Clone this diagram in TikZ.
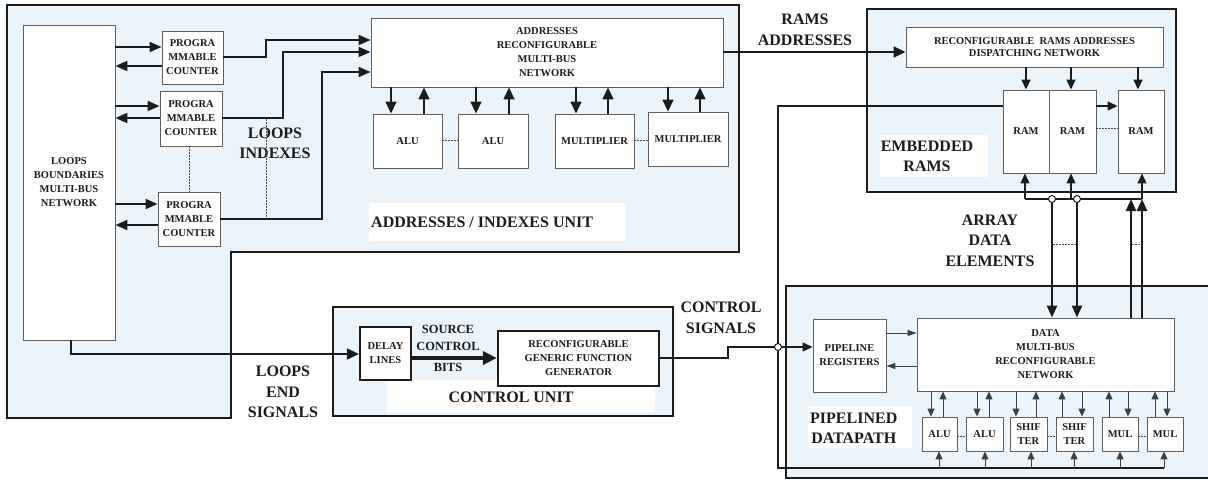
\documentclass[tikz,border=0pt]{standalone}
\usepackage{fontspec}
\setmainfont{Liberation Serif}
\usetikzlibrary{arrows.meta}
\definecolor{unitfill}{RGB}{235,244,251}
\definecolor{boxline}{RGB}{95,95,95}
\definecolor{ink}{RGB}{28,28,28}

\begin{document}
\begin{tikzpicture}[x=1pt,y=-1pt,
  unit/.style={fill=unitfill, draw=ink, line width=2.6pt, line join=miter},
  blk/.style={draw=boxline, fill=white, line width=0.9pt, inner sep=0pt, align=center,
    font=\fontsize{10.5}{14}\selectfont\bfseries, text=ink},
  hblk/.style={blk, draw=ink, line width=2.2pt},
  big/.style={font=\fontsize{16}{20.5}\selectfont\bfseries, align=center, inner sep=0pt, text=ink},
  mid/.style={font=\fontsize{12.5}{17}\selectfont\bfseries, align=center, inner sep=0pt, text=ink},
  bus/.style={draw=ink, line width=1.8pt, -{Triangle[length=12pt,width=10pt]}},
  busw/.style={draw=ink, line width=1.6pt, -{Triangle[length=12pt,width=11pt]}},
  fat/.style={draw=ink, line width=2.4pt, -{Triangle[length=12pt,width=10pt]}},
  med/.style={draw=ink, line width=1.3pt, -{Triangle[length=10pt,width=9pt]}},
  thinarr/.style={draw=ink!85, line width=1pt, -{Triangle[length=8pt,width=7pt]}},
  dots/.style={draw=ink!80, line width=0.8pt, dash pattern=on 1.5pt off 1.5pt},
  hop/.style={circle, draw=ink, fill=white, line width=1pt, minimum size=7pt, inner sep=0pt}
]
\useasboundingbox (0,0) rectangle (1208,482);

% ---------- unit regions ----------
\draw[unit] (7,5) -- (739,5) -- (739,252) -- (231,252) -- (231,418) -- (7,418) -- cycle;
\draw[unit] (867,9) rectangle (1176,192);
\draw[unit] (333,307) rectangle (673,416);
\fill[unitfill] (786,286) rectangle (1208,478);
\draw[ink, line width=2.6pt, line join=miter] (1209,286) -- (786,286) -- (786,478) -- (1209,478);

% white plates behind unit titles
\fill[white] (369,203) rectangle (626,241);
\fill[white] (880,135) rectangle (988,177);
\fill[white] (387,380) rectangle (655,412);
\fill[white] (808,406) rectangle (912,448);

% ---------- addresses / indexes unit ----------
\node[blk, minimum width=92pt, minimum height=315pt] (loops) at (69,182.5) {LOOPS\\BOUNDARIES\\MULTI-BUS\\NETWORK};
\node[blk, minimum width=61pt, minimum height=53pt] (cnt1) at (192.5,57.5) {PROGRA\\MMABLE\\COUNTER};
\node[blk, minimum width=62pt, minimum height=55pt] (cnt2) at (191,118.5) {PROGRA\\MMABLE\\COUNTER};
\node[blk, minimum width=62pt, minimum height=54pt] (cnt3) at (189,219) {PROGRA\\MMABLE\\COUNTER};
\node[blk, minimum width=352pt, minimum height=69pt] (anet) at (547,52.5) {ADDRESSES\\RECONFIGURABLE\\MULTI-BUS\\NETWORK};
\node[blk, minimum width=69pt, minimum height=54pt] (alu1) at (407.5,141) {ALU};
\node[blk, minimum width=70pt, minimum height=54pt] (alu2) at (493,141) {ALU};
\node[blk, minimum width=79pt, minimum height=54pt] (mul1) at (594.5,141) {MULTIPLIER};
\node[blk, minimum width=80pt, minimum height=54pt] (mul2) at (688,139) {MULTIPLIER};

\node[big] (idx) at (275,143.5) {LOOPS\\INDEXES};
\node[big, anchor=west] (aiu) at (371,222) {ADDRESSES / INDEXES UNIT};

% ---------- embedded RAMs ----------
\node[blk, minimum width=257pt, minimum height=40pt, font=\fontsize{10.5}{12.5}\selectfont\bfseries] (disp) at (1034.5,47) {RECONFIGURABLE~ RAMS ADDRESSES\\DISPATCHING NETWORK};
\node[blk, minimum width=46pt, minimum height=83pt] (ram1) at (1026,131.5) {RAM};
\node[blk, minimum width=47pt, minimum height=83pt] (ram2) at (1072.5,131.5) {RAM};
\node[blk, minimum width=46pt, minimum height=83pt] (ram3) at (1141,131.5) {RAM};
\node[big] (eram) at (927,156.5) {EMBEDDED\\RAMS};
\node[big] (raddr) at (805,30) {RAMS\\ADDRESSES};
\node[big] (arr) at (990,240.5) {ARRAY\\DATA\\ELEMENTS};

% ---------- control unit ----------
\node[hblk, minimum width=51pt, minimum height=53pt] (dly) at (385.5,353.5) {DELAY\\LINES};
\node[hblk, minimum width=161pt, minimum height=55pt] (gen) at (578.5,358.5) {RECONFIGURABLE\\GENERIC FUNCTION\\GENERATOR};
\node[big] (cu) at (511,397) {CONTROL UNIT};
\node[mid] (scb) at (448,348) {SOURCE\\CONTROL\\[4pt]BITS};
\node[big] (les) at (283,392) {LOOPS\\END\\SIGNALS};
\node[big] (csig) at (721,318) {CONTROL\\SIGNALS};

% ---------- pipelined datapath ----------
\node[blk, minimum width=73pt, minimum height=73pt] (preg) at (849.5,355.5) {PIPELINE\\REGISTERS};
\node[blk, minimum width=257pt, minimum height=73pt] (dnet) at (1045.5,354.5) {DATA\\MULTI-BUS\\RECONFIGURABLE\\NETWORK};
\node[blk, minimum width=35pt, minimum height=34pt] (pa1) at (939.5,434) {ALU};
\node[blk, minimum width=37pt, minimum height=34pt] (pa2) at (984.5,434) {ALU};
\node[blk, minimum width=37pt, minimum height=34pt] (ps1) at (1028.5,434) {SHIF\\TER};
\node[blk, minimum width=37pt, minimum height=34pt] (ps2) at (1074.5,434) {SHIF\\TER};
\node[blk, minimum width=36pt, minimum height=34pt] (pm1) at (1120,434) {MUL};
\node[blk, minimum width=36pt, minimum height=34pt] (pm2) at (1165,434) {MUL};
\node[big, anchor=west] (pdp) at (810,428.5) {PIPELINED\\DATAPATH};

% ---------- connectors: loops network and counters ----------
\draw[bus] (loops.east |- 0,47) -- (cnt1.west |- 0,47);
\draw[bus] (cnt1.west |- 0,66) -- (loops.east |- 0,66);
\draw[bus] (loops.east |- 0,106) -- (cnt2.west |- 0,106);
\draw[bus] (cnt2.west |- 0,118) -- (loops.east |- 0,118);
\draw[bus] (loops.east |- 0,204) -- (cnt3.west |- 0,204);
\draw[bus] (cnt3.west |- 0,225) -- (loops.east |- 0,225);

\draw[bus] (cnt1.east |- 0,57) -| (266,40) -- (anet.west |- 0,40);
\draw[bus] (cnt2.east |- 0,118) -| (283,52) -- (anet.west |- 0,52);
\draw[bus] (cnt3.east |- 0,219) -| (322,72) -- (anet.west |- 0,72);

\draw[dots] (cnt2.south -| 189,0) -- (cnt3.north -| 189,0);
\draw[dots] (266,119) -- (266,218);

% address network <-> operators
\foreach \n/\d/\u in {alu1/391/424, alu2/476/509, mul1/576/608, mul2/668/700}{
  \draw[busw] (anet.south -| \d,0) -- (\n.north -| \d,0);
  \draw[busw] (\n.north -| \u,0) -- (anet.south -| \u,0);
}
\draw[dots] (alu1.east |- 0,140) -- (alu2.west |- 0,140);
\draw[dots] (mul1.east |- 0,140) -- (mul2.west |- 0,140);

% ---------- RAM addresses ----------
\draw[draw=ink, line width=2pt, -{Triangle[length=12pt,width=11pt]}] (anet.east |- 0,52) -- (disp.west |- 0,52);
\foreach \n/\x in {ram1/1026, ram2/1071, ram3/1138}{
  \draw[med, line width=1.4pt] (disp.south -| \x,0) -- (\n.north -| \x,0);
}
\draw[med, line width=1.4pt] (ram2.east |- 0,106) -- (ram3.west |- 0,106);
\draw[dots] (ram2.east |- 0,128) -- (ram3.west |- 0,128);

% RAM data bus
\coordinate (rb1) at (1025,199);
\coordinate (rb2) at (1071,199);
\coordinate (rb3) at (1142,199);
\draw[ink, line width=1.1pt] (rb1) -- (rb3);
\draw[med, line width=1.1pt] (rb1) -- (ram1.south -| rb1);
\draw[med, line width=1.1pt] (rb2) -- (ram2.south -| rb2);
\draw[med, line width=1.1pt] (rb3) -- (ram3.south -| rb3);

\coordinate (h1) at (1052,199);
\coordinate (h2) at (1077,199);
\draw[fat] (h1) -- (dnet.north -| h1);
\draw[fat] (h2) -- (dnet.north -| h2);
\draw[fat] (dnet.north -| 1131,0) -- (1131,199);
\draw[fat] (dnet.north -| 1142,0) -- (rb3);
\node[hop] (hop1) at (h1) {};
\node[hop] (hop2) at (h2) {};
\draw[dots] (1053,244) -- (1076,244);
\draw[dots] (1132,244) -- (1141,244);

% ---------- control path ----------
\draw[draw=ink, line width=2pt, -{Triangle[length=12pt,width=11pt]}] (loops.south -| 71,0) |- (dly.west |- 0,354);
\draw[draw=ink, line width=3.6pt, -{Triangle[length=14pt,width=13pt]}] (dly.east |- 0,358) -- (gen.west |- 0,358);

% RAM feedback bus along the datapath
\coordinate (fb) at (778,468);
\draw[ink, line width=1.3pt] (ram1.west |- 0,106) -- (778,106) -- (fb) -- (1164,468);
\draw[thinarr] (1164,468) -- (pm2.south -| 1164,0);
\foreach \n/\x in {pa1/939, pa2/985, ps1/1031, ps2/1074, pm1/1120}{
  \draw[thinarr] (\x,468) -- (\n.south -| \x,0);
}

\draw[med] (gen.east |- 0,358) -| (728,347) -- (preg.west |- 0,347);
\node[hop] (hop3) at (778,347) {};

% pipeline registers <-> data network
\draw[thinarr, -{Triangle[length=9pt,width=6pt]}] (preg.east |- 0,333) -- (dnet.west |- 0,333);
\draw[thinarr, -{Triangle[length=9pt,width=6pt]}] (dnet.west |- 0,366) -- (preg.east |- 0,366);

% data network <-> datapath operators
\foreach \n/\d in {pa1/931, pa2/977, ps1/1016, ps2/1082, pm1/1128, pm2/1167}{
  \draw[thinarr] (dnet.south -| \d,0) -- (\n.north -| \d,0);
}
\foreach \n/\u in {pa1/943, pa2/989, ps1/1036, ps2/1062, pm1/1109, pm2/1155}{
  \draw[thinarr] (\n.north -| \u,0) -- (dnet.south -| \u,0);
}
\draw[dots] (pa1.east |- 0,436) -- (pa2.west |- 0,436);
\draw[dots] (ps1.east |- 0,436) -- (ps2.west |- 0,436);
\draw[dots] (pm1.east |- 0,436) -- (pm2.west |- 0,436);
\end{tikzpicture}
\end{document}
